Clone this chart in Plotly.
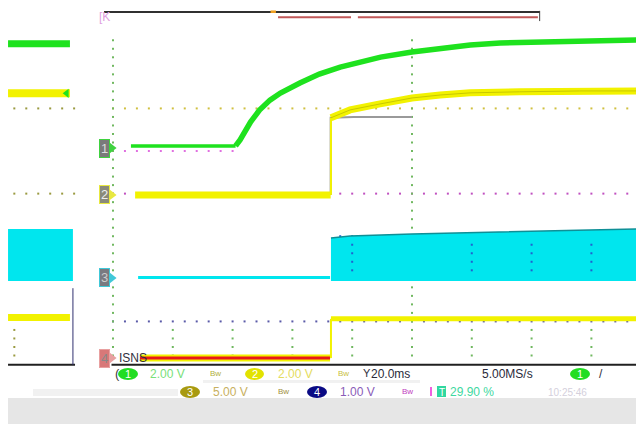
import plotly.graph_objects as go

# ---------------- data (time in ms from screen centre, 20 ms/div) -------------
MS_PER_DIV = 20.0
# channel ground levels (divisions above graticule bottom) and volts/div
CH1_GND, CH1_VDIV = 5.07, 2.0
CH2_GND, CH2_VDIV = 3.97, 2.0
CH3_GND, CH3_VDIV = 2.02, 5.0
CH4_GND, CH4_VDIV = 0.14, 1.0

ch1_t = [-94, -59, -57.5, -54, -51, -47.5, -44, -37.5, -31, -24, -17.5, -10.5, 0, 9.5, 19.5, 29.5, 46, 63, 75]
ch1_v = [0.1, 0.1, 0.38, 1.22, 1.78, 2.25, 2.58, 3.05, 3.47, 3.80, 4.04, 4.27, 4.51, 4.69, 4.84, 4.93, 4.98, 5.02, 5.07]

ch2_pre_t = [-92.6, -27.2]
ch2_pre_v = [0.0, 0.0]
ch2_t = [-27.1, -20.7, -10.7, 0, 9.4, 19.4, 36, 56, 75]
ch2_v = [3.62, 3.99, 4.27, 4.55, 4.69, 4.79, 4.84, 4.88, 4.88]
ch2_ref_t = [-27.2, -27.2, -19.5, 0]
ch2_ref_v = [0.0, 3.62, 3.66, 3.66]

ch3_flat_t = [-91.6, -27.4]
ch3_flat_v = [0.05, 0.05]
ch3_top_t = [-27.1, -20.7, 0, 29.4, 75]
ch3_top_v = [4.7, 4.93, 5.16, 5.4, 5.75]
ch3_low_v = -0.35

ch4_pre_t = [-91, -27.4]
ch4_pre_v = [0.0, 0.0]
ch4_post_t = [-27.1, 75]
ch4_post_v = [0.92, 0.92]

# stale trace fragments at far left (previous acquisition)
old_t = [-135.1, -114.4]
old_ch1_v = 4.9
old_ch2_v = 4.77
old_ch3_top_v, old_ch3_low_v = 5.75, -0.35
old_ch4_v = 0.95

# status bar labels
ch_scales = ["2.00 V", "2.00 V", "5.00 V", "1.00 V"]
timebase = "20.0ms"
sample_rate = "5.00MS/s"
trig_level = "29.90 %"

GREEN = "#1ee21e"
YELLOW = "#f2f200"
CYAN = "#00e6ee"
RED = "#e81818"

def d1(v): return [CH1_GND + x / CH1_VDIV for x in v]
def d2(v): return [CH2_GND + x / CH2_VDIV for x in v]
def d3(v): return [CH3_GND + x / CH3_VDIV for x in v]
def d4(v): return [CH4_GND + x / CH4_VDIV for x in v]

fig = go.Figure()

def line(x, y, color, width, dash=None):
    fig.add_trace(go.Scatter(x=x, y=y, mode="lines", hoverinfo="skip",
                             line=dict(color=color, width=width, dash=dash)))

def dots(x, y, color, size=2):
    fig.add_trace(go.Scatter(x=x, y=y, mode="markers", hoverinfo="skip",
                             marker=dict(symbol="square", size=size, color=color)))

def hrow(level, t0, t1):
    xs, t = [], t0
    while t <= t1 + 1e-9:
        xs.append(t); t += 4.0
    return xs, [float(level)] * len(xs)

def vcol(t, k0, k1):
    ys, k = [], k0
    while k <= k1 + 1e-9:
        ys.append(k); k += 0.2
    return [t] * len(ys), ys

# ---------------- graticule dots ----------------
x, y = hrow(6, -100, 76); dots(x, y, "#d0c040")
x, y = hrow(4, -100, 76); dots(x, y, "#c050c0")
x, y = hrow(1, -100, 76); dots(x, y, "#5a5aa8")
x, y = hrow(5, -96, -60); dots(x, y, "#e070e0")
x, y = hrow(3, -24, 76); dots(x, y, "#2060d0")
vx, vy = [], []
for t0 in [-100, 0]:
    a, b = vcol(t0, 0.2, 7.6); vx += a; vy += b
for t0 in [-80, -60, -40, -20, 20, 40, 60]:
    a, b = vcol(t0, 0.2, 0.8); vx += a; vy += b
dots(vx, vy, "#70b860")
cx, cy = [], []
for t0 in [-20, 20, 40, 60]:
    a, b = vcol(t0, 2.2, 2.8); cx += a; cy += b

# old graticule fragments on the far left
ox, oy = [], []
for lv in [6.0, 4.0]:
    a, b = hrow(lv, -133, -113); ox += a; oy += b
a, b = vcol(-133, 0.2, 0.8); ox += a; oy += b
dots(ox, oy, "#9a9a40")

# bottom graticule edge
line([-100.5, 76], [-0.02, -0.02], "#202020", 2)
line([-135.1, -112.7], [-0.02, -0.02], "#202020", 2)
line([-113.4, -113.4], [-0.02, 1.78], "#303070", 1)

# ---------------- stale fragments ----------------
fig.add_trace(go.Scatter(x=[old_t[0], -113.4, -113.4, old_t[0]],
                         y=d3([old_ch3_top_v, old_ch3_top_v, old_ch3_low_v, old_ch3_low_v]),
                         mode="lines", fill="toself", fillcolor=CYAN, hoverinfo="skip",
                         line=dict(color=CYAN, width=0)))
line(old_t, d1([old_ch1_v] * 2), GREEN, 7)
line(old_t, d2([old_ch2_v] * 2), YELLOW, 8)
line(old_t, d4([old_ch4_v] * 2), YELLOW, 7)
fig.add_trace(go.Scatter(x=[-115.5], y=d2([old_ch2_v]), mode="markers", hoverinfo="skip",
                         marker=dict(symbol="triangle-left", size=8, color=GREEN)))

# ---------------- live traces ----------------
# channel 3 (switching node, filled envelope)
line(ch3_flat_t, d3(ch3_flat_v), CYAN, 3)
fig.add_trace(go.Scatter(x=ch3_top_t + ch3_top_t[::-1],
                         y=d3(ch3_top_v) + d3([ch3_low_v] * len(ch3_top_t)),
                         mode="lines", fill="toself", fillcolor=CYAN, hoverinfo="skip",
                         line=dict(color=CYAN, width=0)))
dots(cx, cy, "#2060d0")
line(ch3_top_t, d3(ch3_top_v), "#0f8f96", 1.5)

# channel 4
line(ch4_pre_t, d4(ch4_pre_v), YELLOW, 7)
line(ch4_pre_t, d4(ch4_pre_v), RED, 3)
line([ch4_post_t[0], ch4_post_t[0]], d4([0.0, ch4_post_v[0]]), YELLOW, 2)
line(ch4_post_t, d4(ch4_post_v), YELLOW, 5)

# channel 2 with gray reference
line(ch2_ref_t, d2(ch2_ref_v), "#9a9a9a", 2)
line(ch2_pre_t, d2(ch2_pre_v), YELLOW, 7)
line([ch2_t[0], ch2_t[0]], d2([0.0, ch2_v[0]]), YELLOW, 2)
line(ch2_t, d2(ch2_v), YELLOW, 7)
line(ch2_t, d2(ch2_v), "#c8c800", 1)

# channel 1
line(ch1_t[:2], d1(ch1_v[:2]), GREEN, 3.5)
line(ch1_t[1:], d1(ch1_v[1:]), GREEN, 5.5)

# ---------------- channel markers ----------------
marker_info = [("1", CH1_GND, "#7a7a7a", "#3fd23f", "#dddddd"),
               ("2", CH2_GND, "#8a8a7a", "#e8e840", "#eeeeee"),
               ("3", CH3_GND, "#7a7a80", "#40c8d8", "#cccccc"),
               ("4", CH4_GND, "#d87878", "#e8a0a0", "#888888")]
for lab, g, bg, bc, fc in marker_info:
    fig.add_trace(go.Scatter(x=[-100.3], y=[g], mode="markers", hoverinfo="skip",
                             marker=dict(symbol="triangle-right", size=9, color=bc)))
    fig.add_annotation(x=-102.8, y=g, xref="x", yref="y", text=lab, showarrow=False,
                       font=dict(family="Arial, sans-serif", size=13, color=fc),
                       bgcolor=bg, bordercolor=bc, borderwidth=1, borderpad=1)
fig.add_annotation(x=-98.5, y=CH4_GND, xref="x", yref="y", text="ISNS", showarrow=False,
                   xanchor="left", font=dict(family="Arial, sans-serif",
                                             size=12, color="#303040"))

# ---------------- layout / UI chrome ----------------
W, H = 636, 424
def X(p): return p / W
def Y(p): return 1 - p / H

shapes = []
# bottom gray panel
shapes.append(dict(type="rect", xref="paper", yref="paper", x0=X(8), x1=1, y0=0, y1=Y(398),
                   fillcolor="#e6e6e6", line=dict(width=0), layer="below"))
shapes.append(dict(type="rect", xref="paper", yref="paper", x0=X(33), x1=X(178), y0=Y(396), y1=Y(389),
                   fillcolor="#f1f1f1", line=dict(width=0), layer="below"))
shapes.append(dict(type="rect", xref="paper", yref="paper", x0=X(203), x1=X(420), y0=Y(383), y1=Y(380),
                   fillcolor="#f1f1f1", line=dict(width=0), layer="below"))
# record-length bar at top
shapes.append(dict(type="line", xref="x", yref="y", x0=-103, x1=42.8, y0=8.263, y1=8.263,
                   line=dict(color="#303030", width=2)))
shapes.append(dict(type="line", xref="x", yref="y", x0=-44.8, x1=-20.4, y0=8.14, y1=8.14,
                   line=dict(color="#c05858", width=2)))
shapes.append(dict(type="line", xref="x", yref="y", x0=-18.1, x1=42.1, y0=8.14, y1=8.14,
                   line=dict(color="#c05858", width=2)))
shapes.append(dict(type="line", xref="x", yref="y", x0=42.7, x1=42.7, y0=8.05, y1=8.29,
                   line=dict(color="#404040", width=1)))
shapes.append(dict(type="rect", xref="x", yref="y", x0=-47.3, x1=-45.5, y0=8.24, y1=8.30,
                   fillcolor="#f0a020", line=dict(width=0)))

# pills
def pill(x0, x1, y0, y1, color):
    shapes.append(dict(type="circle", xref="paper", yref="paper", x0=X(x0), x1=X(x1),
                       y0=Y(y1), y1=Y(y0), fillcolor=color, line=dict(width=0)))
pill(118, 138, 368, 380, "#22dd22")
pill(245, 264, 368, 380, "#e2e200")
pill(570, 590, 368, 380, "#22dd22")
pill(180, 200, 386, 398, "#a89a10")
pill(307, 327, 386, 398, "#0a0a84")
shapes.append(dict(type="rect", xref="paper", yref="paper", x0=X(437), x1=X(446), y0=Y(397), y1=Y(386),
                   fillcolor="#30d8a0", line=dict(width=0)))
shapes.append(dict(type="line", xref="paper", yref="paper", x0=X(431), x1=X(431), y0=Y(396), y1=Y(387),
                   line=dict(color="#f060e0", width=2)))

FONT = "Arial, Liberation Sans, sans-serif"
def txt(x, y, s, color, size=12, anchor="left"):
    fig.add_annotation(x=X(x), y=Y(y), xref="paper", yref="paper", text=s, showarrow=False,
                       xanchor=anchor, yanchor="middle",
                       font=dict(family=FONT, size=size, color=color))

txt(128, 374, "1", "#ffffff", 11, "center")
txt(254.5, 374, "2", "#ffffff", 11, "center")
txt(580, 374, "1", "#ffffff", 11, "center")
txt(190, 392, "3", "#ffffff", 11, "center")
txt(317, 392, "4", "#ffffff", 11, "center")
txt(441.5, 392, "T", "#ffffff", 10, "center")

txt(148, 374, ch_scales[0], "#78e078")
txt(276, 374, ch_scales[1], "#e4dc60")
txt(211, 392, ch_scales[2], "#c8b060")
txt(338, 392, ch_scales[3], "#8a5cb8")
txt(448, 392, trig_level, "#40d8a0")
txt(369, 374, timebase, "#2a2a3a")
txt(480, 374, sample_rate, "#2a2a3a")
txt(361, 373, "Y", "#303040", 11)
txt(597, 374, "/", "#303040", 12)
txt(113, 373, "(", "#404040", 13)

def bw(x, y, color):
    txt(x, y, "Bw", color, 8)
bw(208, 373, "#b0b040")
bw(336, 373, "#c8c040")
bw(276, 391, "#a09040")
bw(400, 391, "#c040c0")
txt(546, 392, "10:25:46", "#d4d0dc", 10)
txt(97, 17, "[K", "#e0a0e0", 12)

fig.update_layout(
    width=W, height=H, margin=dict(l=0, r=0, t=0, b=0),
    paper_bgcolor="white", plot_bgcolor="white", showlegend=False,
    shapes=shapes,
    xaxis=dict(range=[-137.79, 74.92], visible=False, fixedrange=True),
    yaxis=dict(range=[-1.408, 8.545], visible=False, fixedrange=True),
)
fig.write_html("out.html", config={"displayModeBar": False},
               post_script="document.body.style.margin='0';document.body.style.overflow='hidden';")
